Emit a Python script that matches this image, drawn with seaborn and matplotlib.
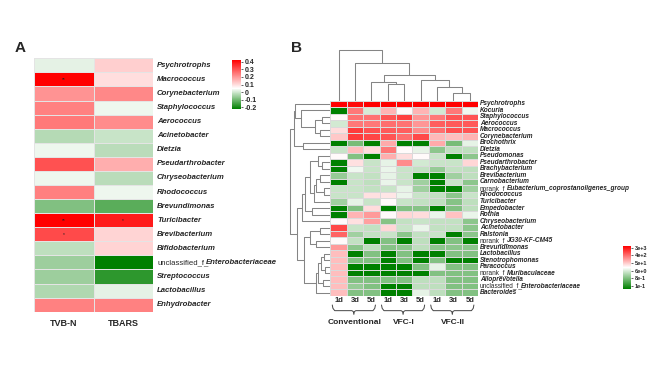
import numpy as np
import pandas as pd
import matplotlib
matplotlib.use('Agg')
import matplotlib.pyplot as plt
import matplotlib.transforms as mtrans
from matplotlib.colors import LinearSegmentedColormap
import seaborn as sns

# ---------------- panel A : correlation with TVB-N / TBARS ----------------
genera_a = ['Psychrotrophs', 'Macrococcus', 'Corynebacterium', 'Staphylococcus',
            'Aerococcus', 'Acinetobacter', 'Dietzia', 'Pseudarthrobacter',
            'Chryseobacterium', 'Rhodococcus', 'Brevundimonas', 'Turicibacter',
            'Brevibacterium', 'Bifidobacterium', 'unclassified_f_Enterobacteriaceae',
            'Streptococcus', 'Lactobacillus', 'Enhydrobacter']
tvbn = [0.02, 0.42, 0.205, 0.23, 0.245, -0.03, 0.03, 0.30, 0.03, 0.235,
        -0.085, 0.42, 0.31, -0.018, -0.055, -0.055, -0.035, 0.23]
tbars = [0.12, 0.095, 0.22, 0.03, 0.215, -0.01, -0.025, 0.165, -0.025, 0.03,
         -0.125, 0.38, 0.11, 0.11, -0.22, -0.17, 0.02, 0.23]
tvbn_sig = ['', '**', '', '', '', '', '', '', '', '', '', '**', '*', '', '', '', '', '']
tbars_sig = ['', '', '', '', '', '', '', '', '', '', '', '*', '', '', '', '', '', '']
corr_ticks = [0.4, 0.3, 0.2, 0.1, 0, -0.1, -0.2]

# ---------------- panel B : relative abundance (log10) ----------------
genera_b = ['Psychrotrophs', 'Kocuria', 'Staphylococcus', 'Aerococcus', 'Macrococcus',
            'Corynebacterium', 'Brochothrix', 'Dietzia', 'Pseudomonas', 'Pseudarthrobacter',
            'Brachybacterium', 'Brevibacterium', 'Carnobacterium',
            'norank_f_Eubacterium_coprostanoligenes_group', 'Rhodococcus', 'Turicibacter',
            'Empedobacter', 'Rothia', 'Chryseobacterium', 'Acinetobacter', 'Ralstonia',
            'norank_f_JG30-KF-CM45', 'Brevundimonas', 'Lactobacillus', 'Stenotrophomonas',
            'Paracoccus', 'norank_f_Muribaculaceae', 'Alloprevotella',
            'unclassified_f_Enterobacteriaceae', 'Bacteroides']
days = ['1d', '3d', '5d', '1d', '3d', '5d', '1d', '3d', '5d']
groups = ['Conventional', 'VFC-I', 'VFC-II']
abund_log = [
    [3.7, 3.6, 3.7, 3.7, 3.7, 3.7, 3.7, 3.7, 3.7],
    [-1.4, 2.5, 0.75, 1.9, 1.2, 1.9, 0.7, 2.5, 1.0],
    [1.2, 2.55, 2.55, 2.85, 3.05, 2.2, 2.5, 2.85, 2.85],
    [0.7, 2.5, 2.5, 2.6, 2.55, 2.2, 2.75, 2.8, 2.8],
    [1.5, 3.1, 2.9, 2.8, 2.75, 2.3, 2.6, 2.9, 2.85],
    [1.7, 3.1, 3.0, 2.85, 2.6, 2.95, 1.85, 1.8, 1.9],
    [-1.4, -0.2, -1.4, 2.0, -1.4, -1.4, 2.0, -0.2, 0.9],
    [0.6, 1.8, 1.5, 2.5, 1.2, 0.9, 0.0, 0.5, 0.5],
    [1.2, -0.1, -1.4, 1.95, 1.5, 1.2, 0.6, -1.4, 0.0],
    [-1.4, 1.45, 0.6, 0.9, 2.3, 0.7, 0.6, 0.6, 1.55],
    [-1.4, 1.0, 0.6, 0.95, 0.6, 0.55, 0.1, 0.55, 0.5],
    [0.1, 0.6, 0.55, 0.9, 0.6, -1.4, -1.4, 0.2, 0.5],
    [-1.4, 0.6, 0.5, 0.95, 0.6, 0.2, -1.4, 0.6, 0.0],
    [0.6, 0.6, 0.55, 0.6, 0.9, 0.2, -1.4, -1.4, 0.2],
    [0.6, 0.6, 1.45, 1.4, 0.95, 0.6, 0.55, 0.0, 0.6],
    [0.2, 0.9, 0.6, 1.2, 0.6, 0.55, 0.5, -0.05, 0.5],
    [-1.4, -0.1, 1.5, -1.4, -0.1, -0.05, -1.4, -0.1, 0.5],
    [-1.4, 1.9, 2.15, 1.2, 1.55, 1.5, 0.95, 1.75, 0.95],
    [1.2, 1.45, 2.1, -0.05, 0.55, 0.6, 0.55, 0.55, 0.0],
    [3.0, 0.6, 0.55, 1.55, 0.6, 0.95, 0.55, 0.55, 0.0],
    [2.7, 0.2, 0.55, 0.6, 0.0, 0.55, 0.6, -1.4, 0.0],
    [1.2, 0.55, -1.4, -0.1, -1.4, 0.5, -1.4, -0.1, -1.4],
    [2.15, 0.0, 0.5, -0.05, 0.0, 0.5, 0.0, 0.0, 0.0],
    [1.8, -1.4, -0.1, -1.4, -0.1, -1.4, -1.4, -0.1, -0.1],
    [1.8, -0.1, -0.1, -1.4, -0.1, -1.4, -0.1, -1.4, -1.4],
    [1.8, -1.4, -1.4, -1.4, -1.4, -0.1, 0.9, -0.1, -0.1],
    [1.8, -1.4, -1.4, -1.4, -1.4, -1.4, -0.1, -0.1, -0.1],
    [1.8, -0.1, -0.1, -0.1, -0.1, 0.5, 0.5, -0.1, -0.1],
    [1.8, 0.1, -0.1, -1.4, -1.4, 0.5, 0.5, -0.1, -0.1],
    [1.8, -0.1, -0.1, -1.4, -1.4, 0.9, 0.5, -0.1, -0.1],
]
abund_ticks = [3000, 400, 50, 6, 0.8, 0.1]
abund_tick_labels = ['3e+3', '4e+2', '5e+1', '6e+0', '8e-1', '1e-1']

# dendrograms: (node a, node b, height); leaves are 0..n-1 in display order
col_links = [(7, 8, 23), (3, 4, 50), (6, 9, 40), (2, 10, 56), (5, 11, 63),
             (12, 13, 77), (1, 14, 113), (0, 15, 155)]
row_links = [(2, 3, 8), (4, 5, 10), (30, 31, 15), (1, 32, 29), (0, 33, 35),
             (6, 7, 27), (9, 10, 8), (8, 36, 12), (11, 12, 10), (13, 14, 6),
             (38, 39, 14), (15, 40, 16), (37, 41, 20), (16, 17, 18), (42, 43, 25),
             (18, 44, 28), (19, 20, 10), (21, 22, 14), (46, 47, 20), (23, 24, 6),
             (25, 26, 5), (49, 50, 9), (27, 28, 7), (51, 52, 12), (29, 53, 14),
             (48, 54, 26), (34, 35, 36), (45, 55, 33), (56, 57, 40)]


def dendro_segments(links, n):
    pos = {i: i + 0.5 for i in range(n)}
    hgt = {i: 0.0 for i in range(n)}
    segs = []
    for k, (a, b, h) in enumerate(links):
        segs.append(([pos[a], pos[a], pos[b], pos[b]], [hgt[a], h, h, hgt[b]]))
        pos[n + k] = (pos[a] + pos[b]) / 2
        hgt[n + k] = h
    return segs


sns.set_style('white')
plt.rcParams['font.family'] = ['Liberation Sans', 'DejaVu Sans']

W, H = 661, 371
fig = plt.figure(figsize=(W / 100, H / 100), dpi=100)


def box(x0, y0, x1, y1):
    return [x0 / W, 1 - y1 / H, (x1 - x0) / W, (y1 - y0) / H]


def label_rows(ax, names, size, pad):
    trans = mtrans.offset_copy(ax.get_yaxis_transform(), fig=fig, x=pad, y=0, units='dots')
    for i, name in enumerate(names):
        prefix = ''
        for p in ('norank_f_', 'unclassified_f_'):
            if name.startswith(p):
                prefix, name = p, name[len(p):]
        if prefix:
            t = ax.text(1, i + 0.5, prefix, transform=trans, ha='left', va='center', fontsize=size)
            ax.annotate(name, xy=(1, 0.5), xycoords=t, xytext=(-1.6, 0), textcoords='offset points',
                        ha='left', va='center', fontsize=size, fontstyle='italic', fontweight='bold')
        else:
            ax.text(1, i + 0.5, name, transform=trans, ha='left', va='center', fontsize=size,
                    fontstyle='italic', fontweight='bold')


# ---- panel A ----
ax_a = fig.add_axes(box(34, 58.3, 153, 311.7))
cax_a = fig.add_axes(box(232, 60, 241, 109))
df_a = pd.DataFrame({'TVB-N': tvbn, 'TBARS': tbars}, index=genera_a)
sig_a = pd.DataFrame({'TVB-N': tvbn_sig, 'TBARS': tbars_sig}, index=genera_a)
cmap_a = LinearSegmentedColormap.from_list('gwr_a', [(0, '#008000'), (0.42, '#ffffff'), (1, '#ff0000')])
sns.heatmap(df_a, ax=ax_a, cbar_ax=cax_a, cmap=cmap_a, vmin=-0.22, vmax=0.42,
            annot=sig_a, fmt='', annot_kws={'fontsize': 3.5, 'color': '#222222'},
            linewidths=0.5, linecolor='#e4e4e4', yticklabels=False)
ax_a.tick_params(axis='x', length=0, pad=5)
for lab in ax_a.get_xticklabels():
    lab.set_fontsize(6.5)
    lab.set_fontweight('bold')
label_rows(ax_a, genera_a, 5.6, 4)
cax_a.set_yticks(corr_ticks)
cax_a.set_yticklabels(['0.4', '0.3', '0.2', '0.1', '0', '-0.1', '-0.2'], fontsize=5, fontweight='bold')
cax_a.tick_params(length=1.5, width=0.5, pad=1)
fig.text(20 / W, 1 - 48 / H, 'A', fontsize=11, fontweight='bold', ha='center', va='center')

# ---- panel B ----
ax_b = fig.add_axes(box(330.3, 100.5, 478, 296))
ax_col = fig.add_axes(box(330.3, 49.3, 478, 100.5))
ax_row = fig.add_axes(box(289, 100.5, 330.3, 296))
cax_b = fig.add_axes(box(623, 246, 631, 289))

df_b = pd.DataFrame(abund_log, index=genera_b, columns=range(9))
cmap_b = LinearSegmentedColormap.from_list('gwr_b', ['#008000', '#ffffff', '#ff0000'])
sns.heatmap(df_b, ax=ax_b, cbar_ax=cax_b, cmap=cmap_b, vmin=-1.4, vmax=3.7,
            linewidths=0.4, linecolor='#dadada', yticklabels=False, xticklabels=days)
ax_b.tick_params(axis='x', length=0, pad=1)
for lab in ax_b.get_xticklabels():
    lab.set_fontsize(5.5)
    lab.set_fontweight('bold')
    lab.set_rotation(0)
label_rows(ax_b, genera_b, 4.7, 2)
cax_b.set_yticks(np.log10(abund_ticks))
cax_b.set_yticklabels(abund_tick_labels, fontsize=4, fontweight='bold')
cax_b.tick_params(length=1.5, width=0.5, pad=1)

# braces + group names under the columns
tr = mtrans.blended_transform_factory(ax_b.transData, ax_b.transAxes)
for g, name in enumerate(groups):
    x0, x1 = 3 * g + 0.12, 3 * g + 2.75
    mid = (x0 + x1) / 2
    yt, yb, ytip = -0.046, -0.075, -0.094
    xs = [x0, x0 + 0.04, x0 + 0.15, mid - 0.12, mid - 0.03, mid,
          mid + 0.03, mid + 0.12, x1 - 0.15, x1 - 0.04, x1]
    ys = [yt, yb + 0.012, yb, yb, yb - 0.005, ytip,
          yb - 0.005, yb, yb, yb + 0.012, yt]
    ax_b.plot(xs, ys, transform=tr, color='#444444', lw=0.7, clip_on=False)
    ax_b.text(3 * g + 1.5, -0.137, name, transform=tr, ha='center', va='center',
              fontsize=6, fontweight='bold')

for xs, ys in dendro_segments(col_links, 9):
    ax_col.plot(xs, ys, color='#858585', lw=0.75)
ax_col.set_xlim(0, 9)
ax_col.set_ylim(0, 156)
ax_col.axis('off')

for ys, xs in dendro_segments(row_links, 30):
    ax_row.plot(xs, ys, color='#858585', lw=0.75)
ax_row.set_ylim(30, 0)
ax_row.set_xlim(41, 0)
ax_row.axis('off')

fig.text(297 / W, 1 - 48.3 / H, 'B', fontsize=11, fontweight='bold', ha='center', va='center')

fig.savefig('out.png', dpi=100)
